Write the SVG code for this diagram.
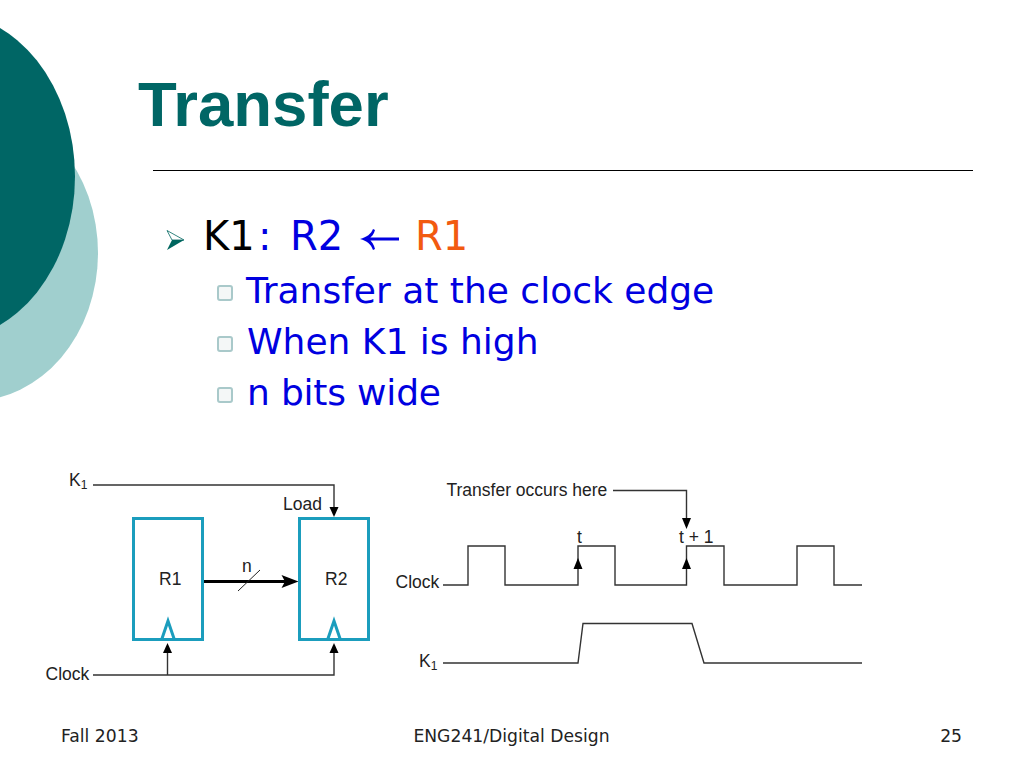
<svg xmlns="http://www.w3.org/2000/svg" width="1024" height="768" viewBox="0 0 1024 768">
<style>
.v{font-family:"DejaVu Sans",Verdana,sans-serif}
.a{font-family:"Liberation Sans",Arial,sans-serif;fill:#222;font-size:17.5px}
.c{font-size:17.500px}
.b{fill:#0000e0;font-size:36px}
.k{font-size:40px}
.w{fill:none;stroke:#333;stroke-width:1.4}
.r{fill:#fff;stroke:#1b9dbd;stroke-width:3}
.t{fill:none;stroke:#1b9dbd;stroke-width:3}
.h{fill:#000;stroke:none}
.f{font-size:17.2px;fill:#222}
.q{fill:#f4f7f7;stroke:#a9c9ca;stroke-width:2}
</style>
<rect width="1024" height="768" fill="#fff"/>
<g id="background">
<ellipse cx="-28" cy="253" rx="126" ry="148" fill="#a0cfce"/>
<ellipse cx="-55" cy="176.500" rx="130" ry="164" fill="#006665"/>
</g>
<text x="138" y="126" style="font-family:'Liberation Sans',Arial,sans-serif;font-weight:bold;font-size:63.5px;fill:#006665">Transfer</text>
<line x1="153" y1="170.500" x2="973" y2="170.500" stroke="#000" stroke-width="1"/>
<g id="bullets">
<path d="M167,230.500 L184,240 L172,240 Z" fill="#fff" stroke="#00665f" stroke-width="0.8"/>
<path d="M167,250 L184,240 L172,240 Z" fill="#00665f"/>
<text class="v k" x="203" y="250" fill="#000">K1</text>
<text class="v k" x="258" y="250" fill="#0000e0">:</text>
<text class="v k" x="290" y="250" fill="#0000e0">R2</text>
<path d="M399,237.500 H368 V240.500 H399 Z M373,229 C371,234 367,237 360,239 C367,241 371,244 373,250 L375,249 C374,245 372,241 368,239 C372,237 374,234 375,230 Z" fill="#0000e0"/>
<text class="v k" x="415" y="250" fill="#f25a10">R1</text>
<rect class="q" x="218" y="286" width="14" height="14" rx="2"/>
<text class="v b" x="246" y="303">Transfer at the clock edge</text>
<rect class="q" x="218" y="337" width="14" height="14" rx="2"/>
<text class="v b" x="247" y="354">When K1 is high</text>
<rect class="q" x="218" y="388" width="14" height="14" rx="2"/>
<text class="v b" x="247" y="405" textLength="194" lengthAdjust="spacing">n bits wide</text>
</g>
<g id="connectors">
<path class="w" d="M93,485 H334 V508"/><path class="h" d="M329.500,507 H338.500 L334,517 Z"/>
<path d="M203,581.500 H288" stroke="#000" stroke-width="3" fill="none"/><path class="h" d="M281.500,575 L298.500,581.500 L281.500,588 L285,581.500 Z"/>
<line x1="238" y1="591" x2="260" y2="570" stroke="#222" stroke-width="1"/>
<path class="w" d="M93,675 H334 V652"/><path class="w" d="M167.500,675 V652"/>
<path class="h" d="M163,653 L167.500,643 L172,653 Z"/><path class="h" d="M329.500,653 L334,643 L338.500,653 Z"/>
<path class="w" d="M613,490.500 H686.500 V520"/><path class="h" d="M682,518 H691 L686.500,529 Z"/>
<path class="w" d="M443,585 H468 V546 H505 V585 H578 V546 H615 V585 H686.500 V546 H724 V585 H797 V546 H834 V585 H862"/>
<path class="h" d="M573.500,569 L578,558 L582.500,569 Z"/><path class="h" d="M682,569 L686.500,558 L691,569 Z"/>
<path class="w" d="M443,663 H578 L583,623.500 H692 L704,663 H862"/>
</g>
<g id="R1"><rect class="r" x="133.500" y="518.500" width="69" height="121"/><path class="t" d="M161.500,640 L168,621 L174.500,640"/><text class="a" x="159" y="585">R1</text></g>
<g id="R2"><rect class="r" x="299.500" y="518.500" width="69" height="121"/><path class="t" d="M327.500,640 L334,621 L340.500,640"/><text class="a" x="325" y="585">R2</text></g>
<g id="labels">
<text class="a" x="69" y="486">K<tspan font-size="12" dy="3">1</tspan></text>
<text class="a" x="283" y="510">Load</text>
<text class="a" x="242" y="572">n</text>
<text class="a" x="45.500" y="680" font-size="17">Clock</text>
<text class="a" x="446.500" y="496">Transfer occurs here</text>
<text class="a c" x="395.500" y="588">Clock</text>
<text class="a" x="577" y="543">t</text>
<text class="a" x="679" y="543">t + 1</text>
<text class="a" x="419" y="667">K<tspan font-size="12" dy="3">1</tspan></text>
</g>
<g id="footer" class="v">
<text class="f" x="61" y="742">Fall 2013</text>
<text class="f" x="511.500" y="742" text-anchor="middle">ENG241/Digital Design</text>
<text class="f" x="962" y="742" text-anchor="end">25</text>
</g>
</svg>
